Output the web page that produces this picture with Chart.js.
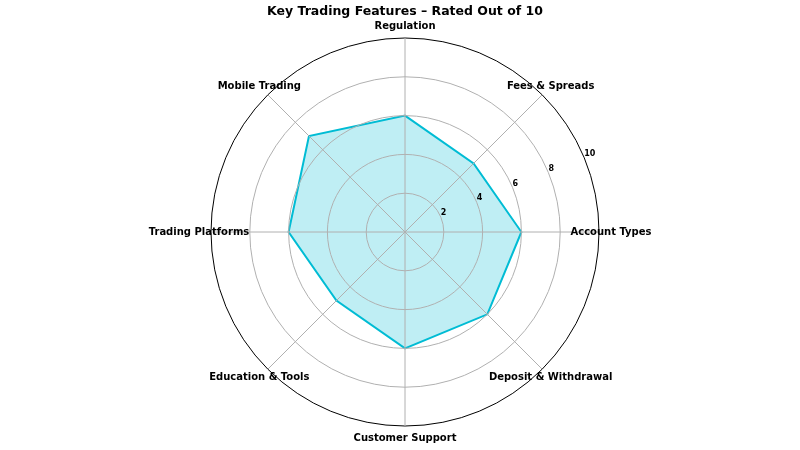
<!DOCTYPE html>
<html>
<head>
<meta charset="utf-8">
<script src="https://cdn.jsdelivr.net/npm/chart.js@4/dist/chart.umd.min.js"></script>
<style>
html,body{margin:0;padding:0;background:#fff;}
#wrap{width:800px;height:450px;position:relative;}
</style>
</head>
<body>
<div id="wrap"><canvas id="c" width="800" height="450"></canvas></div>
<script>
// Categories in Chart.js order (top, then clockwise)
const categories = ["Regulation", "Fees & Spreads", "Account Types", "Deposit & Withdrawal",
                    "Customer Support", "Education & Tools", "Trading Platforms", "Mobile Trading"];
const ratings = [6, 5, 6, 6, 6, 5, 6, 7];
const tickValues = [2, 4, 6, 8, 10];
const titleText = "Key Trading Features \u2013 Rated Out of 10";

const FONT = "'DejaVu Sans', sans-serif";
let gridVisible = false;

const labelPlugin = {
  id: 'customLabels',
  afterDatasetsDraw(chart) {
    // draw the grid above the filled area, as in the reference
    const scale = chart.scales.r;
    chart.ctx.save();
    gridVisible = true;
    scale.drawGrid();
    gridVisible = false;
    chart.ctx.restore();
  },
  afterDraw(chart) {
    const scale = chart.scales.r;
    const ctx = chart.ctx;
    ctx.save();
    ctx.font = "bold 10px " + FONT;
    ctx.fillStyle = "#000";
    ctx.textAlign = "center";
    ctx.textBaseline = "middle";
    const rLab = scale.drawingArea * 206 / 194;
    categories.forEach((c, i) => {
      const p = scale.getPointPosition(i, rLab);
      ctx.fillText(c, p.x, p.y);
    });
    ctx.font = "bold 8px " + FONT;
    ctx.textAlign = "left";
    ctx.textBaseline = "bottom";
    tickValues.forEach(v => {
      const d = scale.getDistanceFromCenterForValue(v);
      const p = scale.getPointPosition(1.5, d);
      ctx.fillText(String(v), p.x, p.y);
    });
    ctx.restore();
  }
};

new Chart(document.getElementById('c'), {
  type: 'radar',
  data: {
    labels: categories,
    datasets: [{
      data: ratings,
      borderColor: '#00bcd4',
      backgroundColor: 'rgba(0,188,212,0.25)',
      borderWidth: 2,
      fill: true,
      pointRadius: 0,
      pointHoverRadius: 0,
      tension: 0
    }]
  },
  options: {
    responsive: false,
    animation: false,
    layout: { padding: { left: 10, right: 0, top: 0, bottom: 24 } },
    plugins: {
      legend: { display: false },
      tooltip: { enabled: false },
      title: {
        display: true,
        text: titleText,
        color: '#000',
        font: { family: FONT, size: 12.5, weight: 'bold', lineHeight: 1.2 },
        padding: { top: 4.5, bottom: 18.5 }
      }
    },
    scales: {
      r: {
        min: 0,
        max: 10,
        ticks: { display: false, stepSize: 2 },
        pointLabels: { display: false },
        grid: {
          circular: true,
          color: (c) => !gridVisible ? 'rgba(0,0,0,0)' :
                        ((c.tick && c.tick.value === 10) ? '#000' : '#b0b0b0'),
          lineWidth: 1
        },
        angleLines: {
          color: () => gridVisible ? '#b0b0b0' : 'rgba(0,0,0,0)',
          lineWidth: 1
        }
      }
    }
  },
  plugins: [labelPlugin]
});
</script>
</body>
</html>
